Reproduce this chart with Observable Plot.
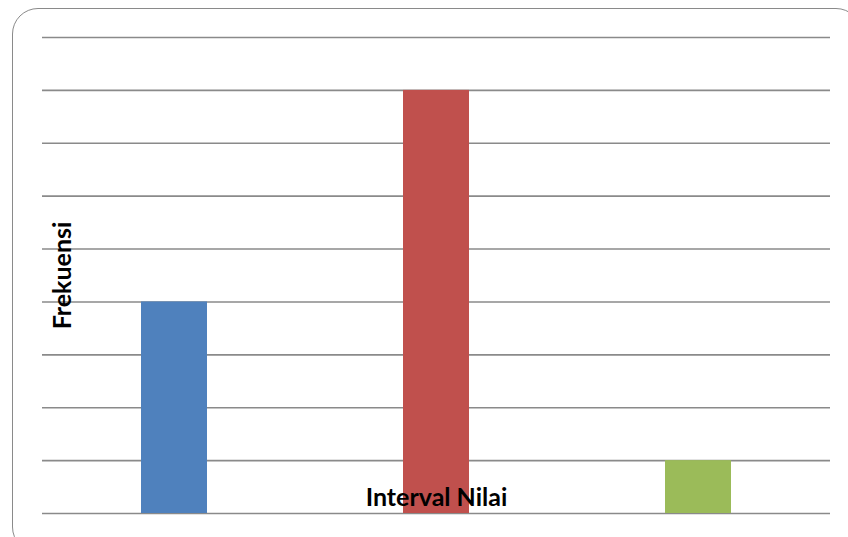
<!DOCTYPE html>
<html>
<head>
<meta charset="utf-8">
<script src="https://cdn.jsdelivr.net/npm/d3@7"></script>
<script src="https://cdn.jsdelivr.net/npm/@observablehq/plot@0.6"></script>
<style>
  html, body { margin: 0; padding: 0; background: #fff; overflow: hidden; }
  #wrap { position: relative; width: 848px; height: 537px; overflow: hidden; }
  #border { position: absolute; left: 12px; top: 8px; width: 850px; height: 545px;
    border: 1.5px solid #8a8a8a; border-radius: 26px; box-sizing: border-box; }
  #chart { position: absolute; left: 0; top: 0; }
</style>
</head>
<body>
<div id="wrap"><div id="border"></div><div id="chart"></div></div>
<script>
const categories = ["Interval 1", "Interval 2", "Interval 3"];
const frequencies = [4, 8, 1];
const colors = ["#4F81BD", "#C0504D", "#9BBB59"];
const gridTicks = [0, 1, 2, 3, 4, 5, 6, 7, 8, 9];
const xTitle = "Interval Nilai";
const yTitle = "Frekuensi";

const data = categories.map((c, i) => ({category: c, value: frequencies[i], color: colors[i]}));

const chart = Plot.plot({
  width: 848,
  height: 537,
  marginLeft: 42,
  marginRight: 18,
  marginTop: 37,
  marginBottom: 24,
  style: {background: "transparent", fontFamily: "Lato, sans-serif"},
  x: {domain: categories, paddingInner: 0.75, paddingOuter: 0.375, axis: null},
  y: {domain: [0, 9], axis: null},
  marks: [
    Plot.ruleY(gridTicks, {stroke: "#8a8a8a", strokeWidth: 1.6}),
    Plot.barY(data, {x: "category", y: "value", fill: "color"}),
    Plot.text([xTitle], {frameAnchor: "bottom", dy: -8, fontSize: 25, fontWeight: "bold", fill: "#000"}),
    Plot.text([yTitle], {frameAnchor: "left", textAnchor: "middle", rotate: -90, dx: 20, fontSize: 25, fontWeight: "bold", fill: "#000"})
  ]
});
document.getElementById("chart").appendChild(chart);
</script>
</body>
</html>
